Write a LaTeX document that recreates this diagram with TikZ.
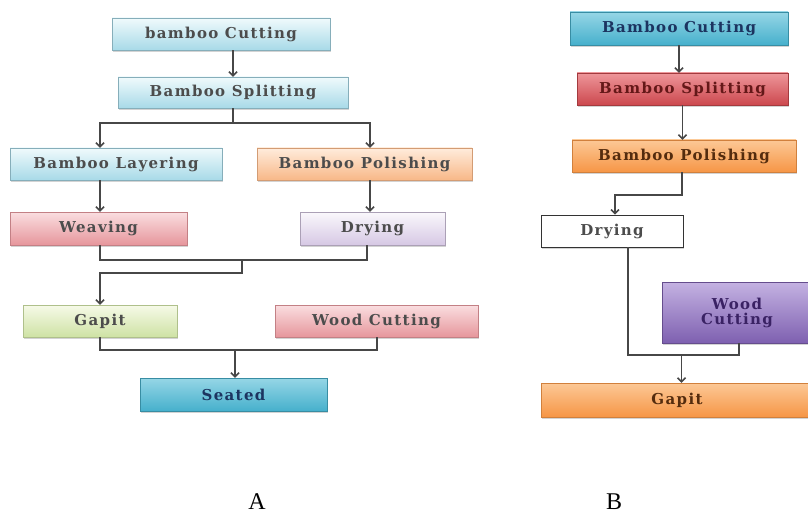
\documentclass[tikz,border=0pt]{standalone}
\usepackage{fontspec}
\setmainfont{Liberation Serif}
\newfontfamily\boxfont{DejaVu Serif}[LetterSpace=9]
\usetikzlibrary{arrows.meta,shadows,positioning}
\definecolor{SkyT}{RGB}{240,250,252}
\definecolor{SkyB}{RGB}{168,218,232}
\definecolor{PeachT}{RGB}{255,236,220}
\definecolor{PeachB}{RGB}{248,184,136}
\definecolor{RoseT}{RGB}{250,222,224}
\definecolor{RoseB}{RGB}{230,150,156}
\definecolor{LilacT}{RGB}{250,248,252}
\definecolor{LilacB}{RGB}{214,200,228}
\definecolor{LimeT}{RGB}{246,250,232}
\definecolor{LimeB}{RGB}{206,226,164}
\definecolor{TealT}{RGB}{150,214,230}
\definecolor{TealB}{RGB}{70,176,204}
\definecolor{RedT}{RGB}{238,150,154}
\definecolor{RedB}{RGB}{204,72,78}
\definecolor{OrangeT}{RGB}{252,200,150}
\definecolor{OrangeB}{RGB}{246,150,70}
\definecolor{PlumT}{RGB}{196,178,226}
\definecolor{PlumB}{RGB}{126,96,176}
\definecolor{Navy}{RGB}{28,52,96}
\definecolor{Brick}{RGB}{100,24,24}
\definecolor{Umber}{RGB}{84,44,14}
\definecolor{Grape}{RGB}{58,34,100}
\tikzset{
  stage/.style={inner sep=0pt, text=black!70, align=center,
    font=\boxfont\bfseries\fontsize{15}{15}\selectfont,
    drop shadow={shadow xshift=1.2pt, shadow yshift=-1.6pt, opacity=.35}},
  sky/.style={top color=SkyT, bottom color=SkyB, draw=SkyB!80!black, line width=.4pt},
  peach/.style={top color=PeachT, bottom color=PeachB, draw=PeachB!85!black, line width=.4pt},
  rose/.style={top color=RoseT, bottom color=RoseB, draw=RoseB!85!black, line width=.4pt},
  lilac/.style={top color=LilacT, bottom color=LilacB, draw=LilacB!80!black, line width=.4pt},
  lime/.style={top color=LimeT, bottom color=LimeB, draw=LimeB!85!black, line width=.4pt},
  teal/.style={top color=TealT, bottom color=TealB, draw=TealB!80!black, line width=.4pt, text=Navy},
  red/.style={top color=RedT, bottom color=RedB, draw=RedB!80!black, line width=.4pt, text=Brick},
  orange/.style={top color=OrangeT, bottom color=OrangeB, draw=OrangeB!85!black, line width=.4pt, text=Umber},
  plum/.style={top color=PlumT, bottom color=PlumB, draw=PlumB!80!black, line width=.4pt, text=Grape},
  plain/.style={fill=white, draw=black!80, line width=.8pt},
  link/.style={draw=black!72, line width=1.5pt},
  flow/.style={link, -{Straight Barb[length=4pt,width=8pt]}},
  caption/.style={font=\fontsize{24}{24}\selectfont, anchor=base, inner sep=0pt},
}
\begin{document}
\begin{tikzpicture}[x=1pt, y=-1pt]
  \useasboundingbox (0,0) rectangle (808,513);
  % process A
  \node[stage, sky, minimum width=218, minimum height=32] (cutA) at (221,34) {bamboo Cutting};
  \node[stage, sky, minimum width=230, minimum height=31] (splitA) at (233,92.5) {Bamboo Splitting};
  \node[stage, sky, minimum width=212, minimum height=32] (layerA) at (116,164) {Bamboo Layering};
  \node[stage, peach, minimum width=215, minimum height=32] (polishA) at (364.5,164) {Bamboo Polishing};
  \node[stage, rose, minimum width=177, minimum height=33] (weaveA) at (98.5,228.5) {Weaving};
  \node[stage, lilac, minimum width=145, minimum height=33] (dryA) at (372.5,228.5) {Drying};
  \node[stage, lime, minimum width=154, minimum height=32] (gapitA) at (100,321) {Gapit};
  \node[stage, rose, minimum width=203, minimum height=32] (woodA) at (376.5,321) {Wood Cutting};
  \node[stage, teal, minimum width=187, minimum height=33] (seatA) at (233.5,394.5) {Seated};
  \draw[flow] (cutA.south -| splitA.north) -- (splitA.north);
  \coordinate (forkA) at ([yshift=-15pt]splitA.south);
  \draw[link] (splitA.south) -- (forkA);
  \draw[flow] (forkA) -| ([xshift=-16pt]layerA.north);
  \draw[flow] (forkA) -| ([xshift=5.5pt]polishA.north);
  \draw[flow] ([xshift=-16pt]layerA.south) -- ([xshift=-16pt]layerA.south |- weaveA.north);
  \draw[flow] ([xshift=5.5pt]polishA.south) -- ([xshift=5.5pt]polishA.south |- dryA.north);
  \coordinate (mergeA) at ([yshift=-15pt]weaveA.south);
  \coordinate (dryOutA) at ([xshift=-5.5pt]dryA.south);
  \draw[link] ([xshift=1.5pt]weaveA.south) |- (mergeA -| dryOutA) -- (dryOutA);
  \coordinate (midA) at (242,260);
  \draw[flow] (midA) -- ++(0,13) -| (gapitA.north);
  \coordinate (joinA) at ([yshift=-13pt]gapitA.south);
  \draw[link] (gapitA.south) -- (joinA) -| ([xshift=.5pt]woodA.south);
  \coordinate (seatInA) at ([xshift=1.5pt]seatA.north);
  \draw[flow] (joinA -| seatInA) -- (seatInA);
  % process B
  \node[stage, teal, minimum width=218, minimum height=33] (cutB) at (679,28.5) {Bamboo Cutting};
  \node[stage, red, minimum width=211, minimum height=32] (splitB) at (682.5,89) {Bamboo Splitting};
  \node[stage, orange, minimum width=224, minimum height=32] (polishB) at (684,156) {Bamboo Polishing};
  \node[stage, plain, minimum width=142, minimum height=32, drop shadow={opacity=0}] (dryB) at (612,231) {Drying};
  \node[stage, plum, minimum width=150, minimum height=61] (woodB) at (737,312.5) {Wood\\Cutting};
  \node[stage, orange, minimum width=272, minimum height=34] (gapitB) at (677,400) {Gapit};
  \draw[flow] (cutB.south) -- (cutB.south |- splitB.north);
  \draw[flow] (splitB.south) -- (splitB.south |- polishB.north);
  \draw[flow] ([xshift=-2pt]polishB.south) -- ++(0,23) -| ([xshift=3pt]dryB.north);
  \coordinate (joinB) at ([yshift=-12pt]woodB.south);
  \draw[link] ([xshift=16pt]dryB.south) |- (joinB) -- ++(2pt,0) -- ([xshift=2pt]woodB.south);
  \coordinate (gapitInB) at ([xshift=4.5pt]gapitB.north);
  \draw[flow] (joinB -| gapitInB) -- (gapitInB);
  % captions
  \node[caption] (capA) at (257,509) {A};
  \node[caption] (capB) at (614,509) {B};
\end{tikzpicture}
\end{document}
